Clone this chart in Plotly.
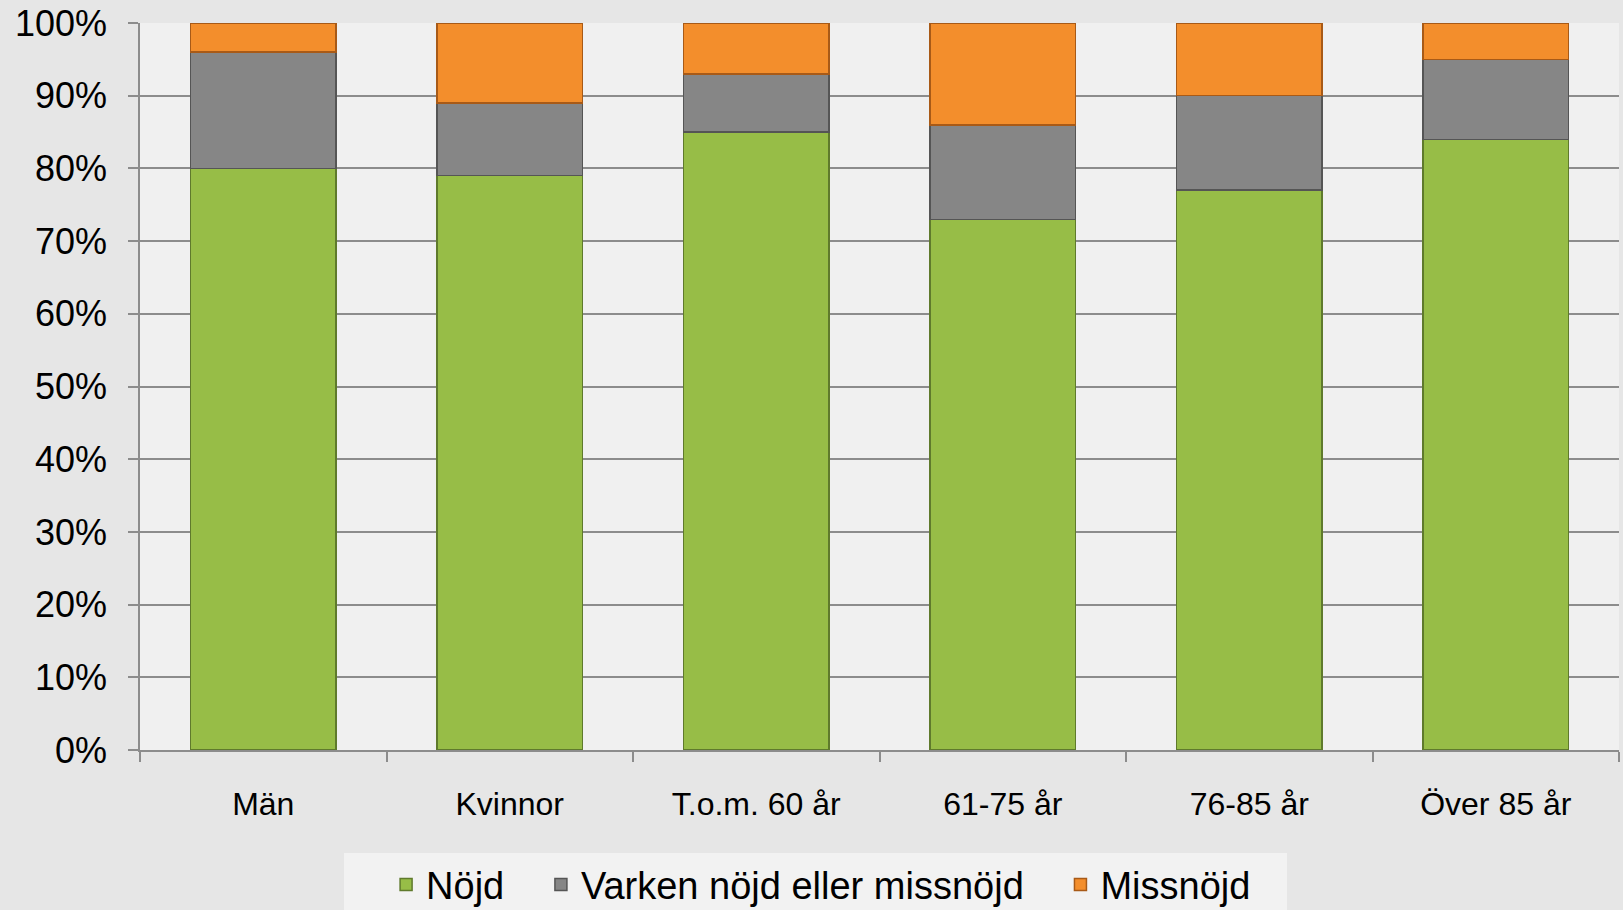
import plotly.graph_objects as go

categories = ["Män", "Kvinnor", "T.o.m. 60 år", "61-75 år", "76-85 år", "Över 85 år"]
nojd = [80, 79, 85, 73, 77, 84]
varken = [16, 10, 8, 13, 13, 11]
missnojd = [4, 11, 7, 14, 10, 5]
y_ticks = [0, 10, 20, 30, 40, 50, 60, 70, 80, 90, 100]
y_labels = [f"{v}%" for v in y_ticks]

NB = "\u00a0"
series = [
    ("Nöjd", nojd, "#97bd47", "#5f7a2c"),
    ("Varken nöjd eller missnöjd", varken, "#868686", "#555555"),
    ("Missnöjd", missnojd, "#f38e2c", "#a85a17"),
]

fig = go.Figure()
for name, vals, col, edge in series:
    fig.add_trace(go.Bar(
        x=categories, y=vals, name=name + NB * 3,
        marker=dict(color=col, line=dict(color=edge, width=1.5)),
        width=0.59,
    ))

font = "Liberation Sans, Arial, sans-serif"
fig.update_layout(
    barmode="stack",
    width=1623, height=910,
    margin=dict(l=140, r=4, t=23, b=160, autoexpand=False),
    paper_bgcolor="#e6e6e6",
    plot_bgcolor="#f0f0f0",
    showlegend=True,
    legend=dict(
        orientation="h", x=0.457, xanchor="center", y=-0.142, yanchor="top",
        bgcolor="#f2f2f2", font=dict(family=font, size=38, color="#000000"),
        traceorder="normal", itemwidth=30,
        title=dict(text=NB * 3, side="left", font=dict(family=font, size=38)),
    ),
    xaxis=dict(
        type="category", showgrid=False, ticks="outside", tickson="boundaries",
        ticklen=10, tickcolor="#8c8c8c", tickwidth=1.5,
        showline=True, linecolor="#8c8c8c", linewidth=1.5,
        tickfont=dict(family=font, size=32, color="#000000"),
        ticklabelstandoff=25,
    ),
    yaxis=dict(
        range=[0, 100], tickmode="array", tickvals=y_ticks, ticktext=y_labels,
        showgrid=True, gridcolor="#8c8c8c", gridwidth=1.5,
        ticks="outside", ticklen=10, tickcolor="#8c8c8c", tickwidth=1.5,
        showline=True, linecolor="#8c8c8c", linewidth=1.5,
        tickfont=dict(family=font, size=36, color="#000000"),
        zeroline=False, ticklabelstandoff=14,
    ),
)

fig.write_html("out.html", config={"displayModeBar": False})

with open("out.html", "r", encoding="utf-8") as f:
    html = f.read()
html = html.replace("<head>", "<head><style>html,body{margin:0;padding:0;overflow:hidden;}</style>", 1)
with open("out.html", "w", encoding="utf-8") as f:
    f.write(html)
